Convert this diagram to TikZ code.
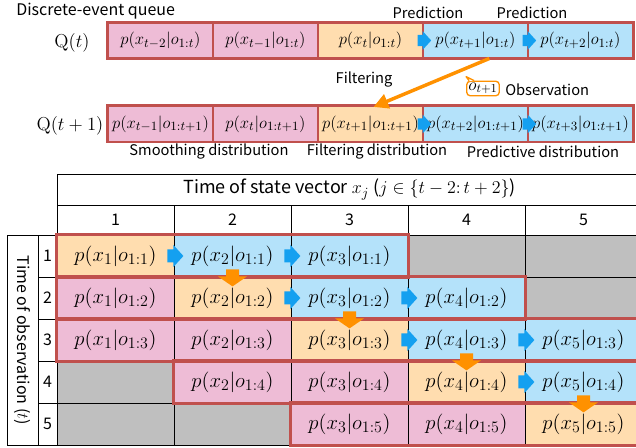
\RequirePackage{fix-cm}
\documentclass[tikz,border=0pt]{standalone}
\usepackage{fontspec}
\newfontfamily\jp{Noto Sans CJK JP}
\usetikzlibrary{arrows.meta,calc}
\DeclareMathSizes{15.5}{15.5}{12}{9}
\DeclareMathSizes{12.5}{12.5}{9.5}{7}
\DeclareMathSizes{13.5}{13.5}{10.5}{8}
\definecolor{pinkc}{RGB}{238,188,214}
\definecolor{peach}{RGB}{255,221,175}
\definecolor{bluec}{RGB}{180,226,250}
\definecolor{grayc}{RGB}{191,191,191}
\definecolor{redb}{RGB}{192,80,77}
\definecolor{orng}{RGB}{255,145,0}
\definecolor{blarr}{RGB}{20,160,240}
\newcommand\mytabfont{\fontsize{15.5}{17}\selectfont}
\newcommand\myqfont{\fontsize{12.5}{14}\selectfont}
\newcommand\mylblfont{\jp\fontsize{11}{13}\selectfont}
\begin{document}
\begin{tikzpicture}[x=0.75pt,y=-0.75pt,
  cell/.style={draw=black, line width=0.6pt, minimum width=87.75pt, minimum height=31.5pt, inner sep=0pt, font=\mytabfont},
  qcell/.style={draw=redb, line width=0.8pt, minimum width=78.75pt, minimum height=26.25pt, inner sep=0pt, font=\myqfont},
  hdr/.style={draw=black, line width=0.6pt, inner sep=0pt, font=\jp\fontsize{12}{14}\selectfont},
  redframe/.style={draw=redb, line width=2.2pt},
  lbl/.style={font=\mylblfont, inner sep=0pt},
  barrow/.pic={\fill[blarr] (-7,-6.5) -- (-1,-6.5) -- (-1,-11) -- (9,0) -- (-1,11) -- (-1,6.5) -- (-7,6.5) -- cycle;},
  oarrow/.pic={\fill[orng] (-6.5,-8) -- (6.5,-8) -- (6.5,-1) -- (14.5,-1) -- (0,9) -- (-14.5,-1) -- (-6.5,-1) -- cycle;}
]
\useasboundingbox (0,0) rectangle (636,448);

% ---------- queue rows ----------
\foreach \c/\col/\txt in {1/pinkc/{$p(x_{t-2}|o_{1:t})$},2/pinkc/{$p(x_{t-1}|o_{1:t})$},3/peach/{$p(x_{t}|o_{1:t})$},4/bluec/{$p(x_{t+1}|o_{1:t})$},5/bluec/{$p(x_{t+2}|o_{1:t})$}}
  \node[qcell, fill=\col] (q0\c) at ({108+105*(\c-0.5)}, 40.5) {\txt};
\foreach \c/\col/\txt in {1/pinkc/{$p(x_{t-1}|o_{1:t+1})$},2/pinkc/{$p(x_{t}|o_{1:t+1})$},3/peach/{$p(x_{t+1}|o_{1:t+1})$},4/bluec/{$p(x_{t+2}|o_{1:t+1})$},5/bluec/{$p(x_{t+3}|o_{1:t+1})$}}
  \node[qcell, fill=\col] (q1\c) at ({108+105*(\c-0.5)}, 124) {\txt};
\draw[redframe] (q01.north west) rectangle (q05.south east);
\draw[redframe] (q11.north west) rectangle (q15.south east);
\foreach \n in {q03,q04,q13,q14} \pic[scale=0.85] at (\n.east) {barrow};

\node[lbl, font=\jp\fontsize{12}{14}\selectfont, anchor=west] (title) at (16,11) {Discrete-event queue};
\node[inner sep=0pt, font=\fontsize{14}{16}\selectfont] (qt) at (72,43) {$\mathrm{Q}(t)$};
\node[inner sep=0pt, font=\fontsize{14}{16}\selectfont] (qt1) at (70,126) {$\mathrm{Q}(t+1)$};
\node[lbl] (pred1) at (428,13) {Prediction};
\node[lbl] (pred2) at (532,13) {Prediction};
\node[lbl] (filt) at (364,80) {Filtering};
\node[draw=orng, line width=1pt, rounded corners=2.5pt, fill=white, inner sep=1.2pt, font=\fontsize{13}{15}\selectfont] (obs) at (483,88.5) {$o_{t+1}$};
\fill[white] ($(obs.north west)+(3,0.6)$) -- ($(obs.north west)+(0,-4)$) -- ($(obs.north west)+(8,0.6)$) -- cycle;
\draw[orng, line width=1pt, line join=round] ($(obs.north west)+(3,0)$) -- ($(obs.north west)+(0,-4)$) -- ($(obs.north west)+(8,0)$);
\node[lbl, anchor=west] (obsl) at (505,90) {Observation};
\node[lbl] (smooth) at (209,152) {Smoothing distribution};
\node[lbl] (filtd) at (377,152) {Filtering distribution};
\node[lbl] (predd) at (543,152) {Predictive distribution};
\draw[orng, line width=2.6pt, -{Triangle[length=11pt,width=11pt]}] ($(q04.south west)!0.63!(q04.south east)$) -- ($(q13.north)+(3,1)$);

% ---------- table header ----------
\node[hdr, minimum width=438.75pt, minimum height=23.25pt, font=\jp\fontsize{13.5}{15}\selectfont] (hd) at (349.5,189.5) {Time of state vector $x_j$ ($j\in\{t-2{:}\,t+2\}$)};
\foreach \c in {1,...,5}
  \node[hdr, minimum width=87.75pt, minimum height=22.5pt] (n\c) at ({57+117*(\c-0.5)}, 220) {\c};
\node[hdr, rotate=-90, minimum width=157.5pt, minimum height=23.25pt] (rl) at (22.5,340) {Time of observation ($t$)};
\foreach \r in {1,...,5}
  \node[hdr, minimum width=14.25pt, minimum height=31.5pt] (rn\r) at (47.5,{235+42*(\r-0.5)}) {\r};

% ---------- table cells ----------
\foreach \r/\c/\col/\txt in {
  1/1/peach/{$p(x_1|o_{1:1})$},1/2/bluec/{$p(x_2|o_{1:1})$},1/3/bluec/{$p(x_3|o_{1:1})$},1/4/grayc/{},1/5/grayc/{},
  2/1/pinkc/{$p(x_1|o_{1:2})$},2/2/peach/{$p(x_2|o_{1:2})$},2/3/bluec/{$p(x_3|o_{1:2})$},2/4/bluec/{$p(x_4|o_{1:2})$},2/5/grayc/{},
  3/1/pinkc/{$p(x_1|o_{1:3})$},3/2/pinkc/{$p(x_2|o_{1:3})$},3/3/peach/{$p(x_3|o_{1:3})$},3/4/bluec/{$p(x_4|o_{1:3})$},3/5/bluec/{$p(x_5|o_{1:3})$},
  4/1/grayc/{},4/2/pinkc/{$p(x_2|o_{1:4})$},4/3/pinkc/{$p(x_3|o_{1:4})$},4/4/peach/{$p(x_4|o_{1:4})$},4/5/bluec/{$p(x_5|o_{1:4})$},
  5/1/grayc/{},5/2/grayc/{},5/3/pinkc/{$p(x_3|o_{1:5})$},5/4/pinkc/{$p(x_4|o_{1:5})$},5/5/peach/{$p(x_5|o_{1:5})$}}
  \node[cell, fill=\col] (t\r\c) at ({57+117*(\c-0.5)}, {235+42*(\r-0.5)}) {\txt};

\draw[redframe] (t11.north west) rectangle (t13.south east);
\draw[redframe] (t21.north west) rectangle (t24.south east);
\draw[redframe] (t31.north west) rectangle (t35.south east);
\draw[redframe] (t42.north west) rectangle (t45.south east);
\draw[redframe] (t53.north west) rectangle (t55.south east);

\foreach \n in {t11,t12,t22,t23,t33,t34,t44} \pic at (\n.east) {barrow};
\foreach \n in {t12,t23,t34,t45} \pic at (\n.south) {oarrow};
\end{tikzpicture}
\end{document}
